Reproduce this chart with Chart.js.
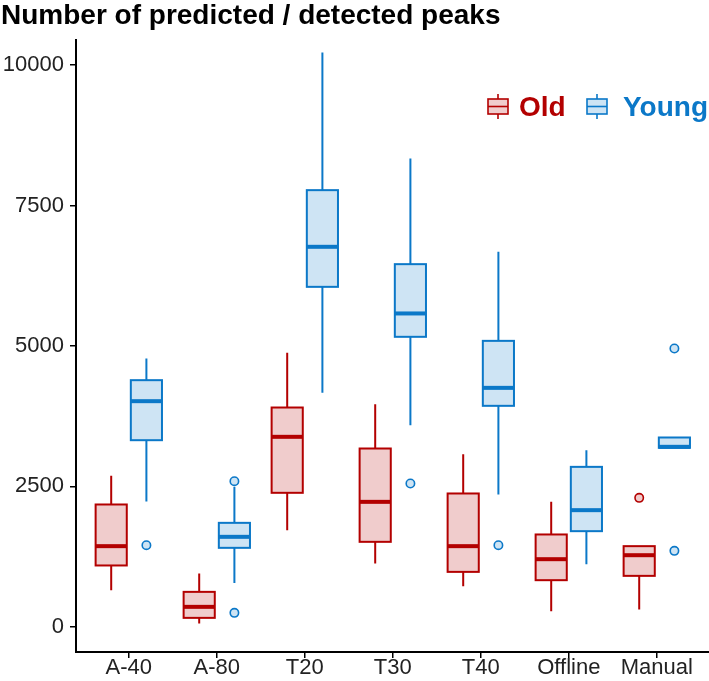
<!DOCTYPE html>
<html>
<head>
<meta charset="utf-8">
<style>
  html, body { margin: 0; padding: 0; background: #fff; overflow: hidden; }
  #wrap { width: 709px; height: 681px; }
</style>
</head>
<body>
<div id="wrap"><canvas id="peaks" width="709" height="681"></canvas></div>
<script src="https://cdn.jsdelivr.net/npm/chart.js"></script>
<script>
// categories on the x axis
const categories = ['A-40', 'A-80', 'T20', 'T30', 'T40', 'Offline', 'Manual'];

// Old: five-number summaries per category
const oldMin = [650, 57, 1719, 1125, 721, 276, 306];
const oldQ1 = [1090, 157, 2384, 1511, 976, 828, 905];
const oldMedian = [1434, 353, 3381, 2223, 1434, 1202, 1273];
const oldQ3 = [2176, 620, 3903, 3173, 2372, 1642, 1434];
const oldMax = [2686, 947, 4877, 3963, 3072, 2223, 1434];
const oldOutliers = [[], [], [], [], [], [], [2294]];

// Young: five-number summaries per category
const youngMin = [2229, 780, 4164, 3589, 2354, 1113, 3185];
const youngQ1 = [3321, 1404, 6052, 5162, 3933, 1701, 3185];
const youngMedian = [4016, 1600, 6765, 5578, 4253, 2075, 3203];
const youngQ3 = [4390, 1849, 7774, 6456, 5090, 2846, 3369];
const youngMax = [4776, 2490, 10226, 8338, 6675, 3143, 3369];
const youngOutliers = [[1451], [2591, 246], [], [2550], [1451], [], [4954, 1350]];

const yTicks = [0, 2500, 5000, 7500, 10000];

const OLD_LINE = '#B30000', OLD_FILL = 'rgba(179,0,0,0.2)';
const YOUNG_LINE = '#0B78C8', YOUNG_FILL = 'rgba(11,120,200,0.2)';
const DODGE = 0.2, HALF_BOX = 0.177;

const series = [
  { name: 'Old', line: OLD_LINE, fill: OLD_FILL, off: -DODGE,
    min: oldMin, q1: oldQ1, med: oldMedian, q3: oldQ3, max: oldMax, out: oldOutliers },
  { name: 'Young', line: YOUNG_LINE, fill: YOUNG_FILL, off: DODGE,
    min: youngMin, q1: youngQ1, med: youngMedian, q3: youngQ3, max: youngMax, out: youngOutliers }
];

function outlierPoints(s) {
  const pts = [];
  s.out.forEach((vals, i) => vals.forEach(v => pts.push({ x: i + 1 + s.off, y: v })));
  return pts;
}

const boxPlugin = {
  id: 'boxes',
  beforeDatasetsDraw(chart) {
    const ctx = chart.ctx, x = chart.scales.x, y = chart.scales.y;
    ctx.save();
    series.forEach(s => {
      categories.forEach((c, i) => {
        const xc = x.getPixelForValue(i + 1 + s.off);
        const xl = x.getPixelForValue(i + 1 + s.off - HALF_BOX);
        const xr = x.getPixelForValue(i + 1 + s.off + HALF_BOX);
        const yMin = y.getPixelForValue(s.min[i]), yMax = y.getPixelForValue(s.max[i]);
        const yQ1 = y.getPixelForValue(s.q1[i]), yQ3 = y.getPixelForValue(s.q3[i]);
        const yMed = y.getPixelForValue(s.med[i]);
        ctx.strokeStyle = s.line;
        ctx.lineWidth = 2;
        ctx.beginPath();
        ctx.moveTo(xc, yQ3); ctx.lineTo(xc, yMax);
        ctx.moveTo(xc, yQ1); ctx.lineTo(xc, yMin);
        ctx.stroke();
        ctx.fillStyle = '#fff';
        ctx.fillRect(xl, yQ3, xr - xl, yQ1 - yQ3);
        ctx.fillStyle = s.fill;
        ctx.fillRect(xl, yQ3, xr - xl, yQ1 - yQ3);
        ctx.strokeRect(xl, yQ3, xr - xl, yQ1 - yQ3);
        ctx.lineWidth = 4;
        ctx.beginPath();
        ctx.moveTo(xl, yMed); ctx.lineTo(xr, yMed);
        ctx.stroke();
      });
    });
    ctx.restore();
  },
  afterDraw(chart) {
    const ctx = chart.ctx;
    ctx.save();
    // title
    ctx.fillStyle = '#000';
    ctx.font = 'bold 28px "Liberation Sans", Arial, sans-serif';
    ctx.textBaseline = 'alphabetic';
    ctx.textAlign = 'left';
    ctx.fillText('Number of predicted / detected peaks', 1, 24);
    // legend
    const keys = [{ s: series[0], kx: 488, tx: 519 }, { s: series[1], kx: 587, tx: 623 }];
    ctx.font = 'bold 28px "Liberation Sans", Arial, sans-serif';
    keys.forEach(k => {
      const w = 20, top = 99, bot = 114, mid = k.kx + w / 2;
      ctx.strokeStyle = k.s.line;
      ctx.lineWidth = 1.6;
      ctx.beginPath();
      ctx.moveTo(mid, 94); ctx.lineTo(mid, top);
      ctx.moveTo(mid, bot); ctx.lineTo(mid, 119);
      ctx.stroke();
      ctx.fillStyle = k.s.fill;
      ctx.fillRect(k.kx, top, w, bot - top);
      ctx.strokeRect(k.kx, top, w, bot - top);
      ctx.beginPath();
      ctx.moveTo(k.kx, (top + bot) / 2); ctx.lineTo(k.kx + w, (top + bot) / 2);
      ctx.stroke();
      ctx.fillStyle = k.s.line;
      ctx.fillText(k.s.name, k.tx, 116);
    });
    ctx.restore();
  }
};

const axisFont = { family: '"Liberation Sans", Arial, sans-serif', size: 22 };

new Chart(document.getElementById('peaks').getContext('2d'), {
  type: 'scatter',
  data: {
    datasets: series.map(s => ({
      label: s.name,
      data: outlierPoints(s),
      pointRadius: 4.2,
      pointHoverRadius: 4.2,
      borderWidth: 1.6,
      borderColor: s.line,
      backgroundColor: s.fill
    }))
  },
  options: {
    responsive: false,
    animation: false,
    layout: { autoPadding: false, padding: { top: 40, left: 0, right: 0, bottom: 0 } },
    plugins: { legend: { display: false }, title: { display: false }, tooltip: { enabled: false } },
    scales: {
      x: {
        type: 'linear',
        min: 0.4,
        max: 0.4 + 633 / 88,
        afterBuildTicks: scale => { scale.ticks = categories.map((c, i) => ({ value: i + 1 })); },
        afterFit: scale => { scale.height = 29; },
        ticks: {
          callback: (v, idx) => categories[idx],
          font: axisFont, color: '#222', padding: -3, maxRotation: 0, autoSkip: false
        },
        grid: { drawOnChartArea: false, drawTicks: true, tickLength: 6, color: '#000', lineWidth: 1.5 },
        border: { display: true, color: '#000', width: 2 }
      },
      y: {
        min: -451,
        max: 10448,
        afterBuildTicks: scale => { scale.ticks = yTicks.map(v => ({ value: v })); },
        afterFit: scale => { scale.width = 76; },
        ticks: { callback: v => String(v), font: axisFont, color: '#222', padding: 6 },
        grid: { drawOnChartArea: false, drawTicks: true, tickLength: 6, color: '#000', lineWidth: 1.5 },
        border: { display: true, color: '#000', width: 2 }
      }
    }
  },
  plugins: [boxPlugin]
});
</script>
</body>
</html>
